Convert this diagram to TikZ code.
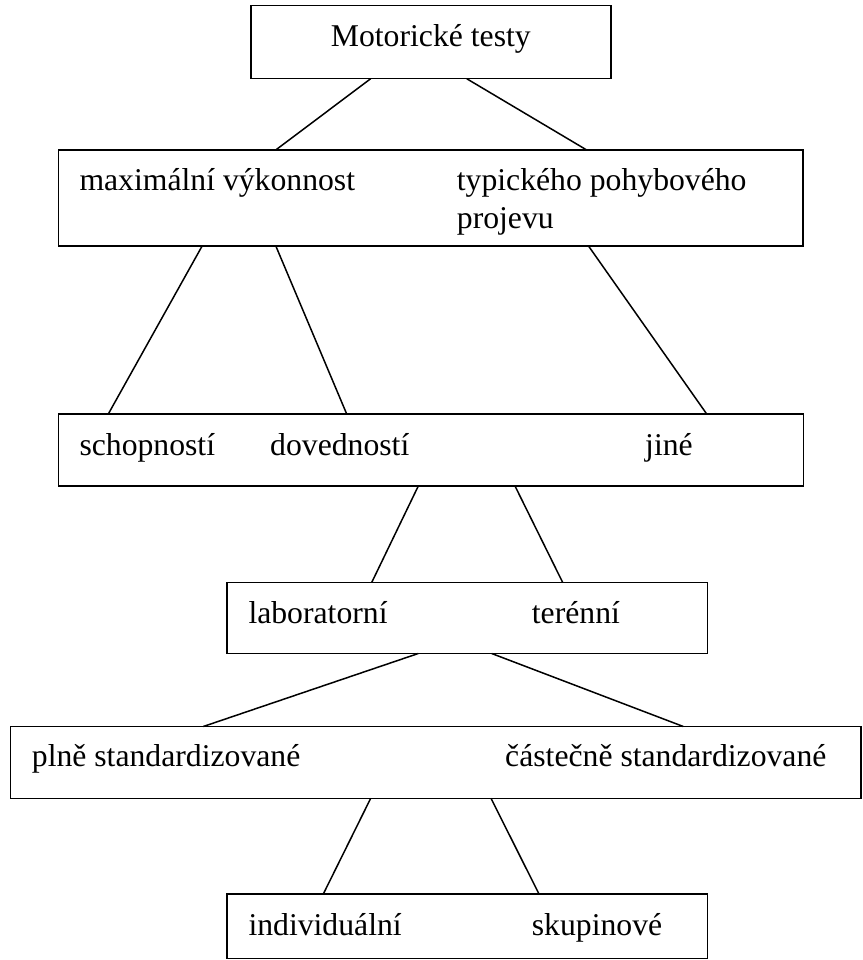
\documentclass[tikz,border=0pt]{standalone}
\usepackage{fontspec}
\setmainfont{Liberation Serif}
\usetikzlibrary{positioning}

\begin{document}
\begin{tikzpicture}[x=1pt,y=-1pt,
	box/.style={draw,line width=1.6pt,inner sep=0pt,outer sep=0pt},
	lbl/.style={inner sep=0pt,anchor=base west,font=\fontsize{31.7}{38}\selectfont},
	link/.style={line width=1.5pt}]

\useasboundingbox (0,0) rectangle (862,960);

% boxes
\node[box,minimum width=360.3pt,minimum height=73pt] (b1) at (430.85,42.2) {};
\node[box,minimum width=744.4pt,minimum height=95.7pt] (b2) at (430.5,197.85) {};
\node[box,minimum width=745pt,minimum height=72pt] (b3) at (430.8,450) {};
\node[box,minimum width=480.6pt,minimum height=71pt] (b4) at (467,618) {};
\node[box,minimum width=850.5pt,minimum height=71.8pt] (b5) at (435.75,762.4) {};
\node[box,minimum width=480.6pt,minimum height=64.5pt] (b6) at (467,926.25) {};

% texts
\node[lbl,anchor=base] (mot) at (430.8,46.7) {Motorické testy};
\node[lbl] (max) at (79.3,190) {maximální výkonnost};
\node[lbl] (typ) at (456.7,190) {typického pohybového};
\node[lbl] (typb) at (456.7,228.3) {projevu};
\node[lbl] (sch) at (79.3,455) {schopností};
\node[lbl] (dov) at (270,455) {dovedností};
\node[lbl] (jin) at (645,455) {jiné};
\node[lbl] (lab) at (248.3,623.3) {laboratorní};
\node[lbl] (ter) at (531.7,623.3) {terénní};
\node[lbl] (pln) at (31.7,766.7) {plně standardizované};
\node[lbl] (cas) at (505,766.7) {částečně standardizované};
\node[lbl] (ind) at (248.3,935) {individuální};
\node[lbl] (sku) at (531.7,935) {skupinové};

% connectors
\foreach \a/\p/\b/\q in {b1/120/b2/217.4, b1/216/b2/528.4,
	b2/144/b3/50, b2/217.4/b3/288.4, b2/530/b3/648.4,
	b3/360/b4/145, b3/456.7/b4/336,
	b4/191.6/b5/192.8, b4/265/b5/672.8,
	b5/360.2/b6/96.6, b5/480.5/b6/312.3}{
	\draw[link] ([xshift=\p pt]\a.south west)--([xshift=\q pt]\b.north west);
}

\end{tikzpicture}
\end{document}
